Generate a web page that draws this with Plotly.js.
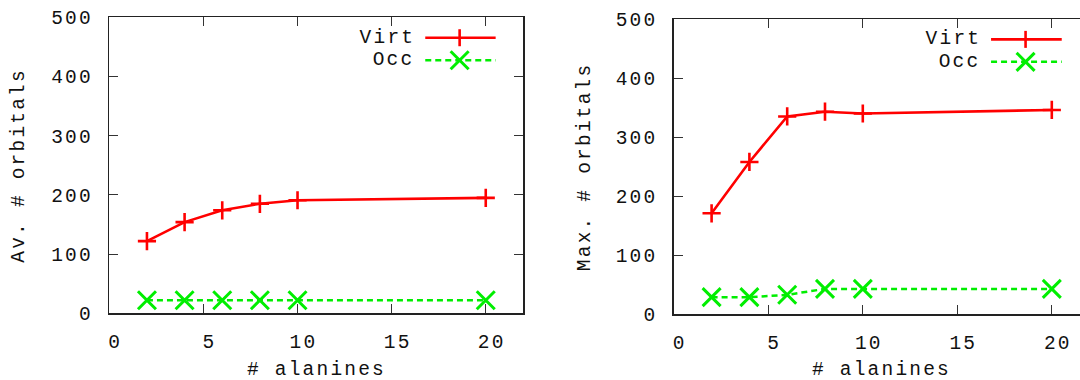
<!DOCTYPE html>
<html>
<head>
<meta charset="utf-8">
<script src="https://cdn.plot.ly/plotly-3.0.1.min.js"></script>
<style>
  html, body { margin: 0; padding: 0; overflow: hidden; background: #fff; }
  #chart { width: 1092px; height: 380px; }
  .main-svg text { letter-spacing: 2.2px; }
</style>
</head>
<body>
<div id="chart"></div>
<script>
// ---- data ----
const alanines = [2, 4, 6, 8, 10, 20];
const avVirt = [122, 154, 174, 185, 191, 195];
const avOcc = [22, 22, 22, 22, 22, 22];
const maxVirt = [171, 258, 335, 343, 340, 346];
const maxOcc = [29, 29, 33, 43, 43, 43];
const seriesNames = ['Virt', 'Occ'];
const xTitle = '# alanines';
const yTitleLeft = 'Av. # orbitals';
const yTitleRight = 'Max. # orbitals';
const xTicks = [0, 5, 10, 15, 20];
const yTicks = [0, 100, 200, 300, 400, 500];

// ---- styles ----
const RED = '#ff0000';
const GREEN = '#00ee00';
const FONT = 'Liberation Mono, DejaVu Sans Mono, monospace';
const FS = 19.5;
const TXT = '#111111';

function virtTrace(y, xa, ya) {
  return {
    x: alanines, y: y, xaxis: xa, yaxis: ya, name: seriesNames[0],
    mode: 'lines+markers', showlegend: false, hoverinfo: 'skip',
    line: { color: RED, width: 2.6 },
    marker: { symbol: 'cross-thin-open', size: 13, color: RED, line: { color: RED, width: 2.6 } }
  };
}
function occTrace(y, xa, ya) {
  return {
    x: alanines, y: y, xaxis: xa, yaxis: ya, name: seriesNames[1],
    mode: 'lines+markers', showlegend: false, hoverinfo: 'skip',
    line: { color: GREEN, width: 2.5, dash: '6px,4px' },
    marker: { symbol: 'x-thin-open', size: 18, color: GREEN, line: { color: GREEN, width: 3 } }
  };
}

const data = [
  virtTrace(avVirt, 'x', 'y'),
  occTrace(avOcc, 'x', 'y'),
  virtTrace(maxVirt, 'x2', 'y2'),
  occTrace(maxOcc, 'x2', 'y2')
];

const W = 1092, H = 380;
function xAxis(l, r, anchor) {
  return {
    domain: [l / W, r / W], anchor: anchor, range: [0, 22],
    tickvals: xTicks, ticktext: xTicks.map(String),
    ticks: 'inside', ticklen: 9, tickwidth: 1, tickcolor: '#333',
    showline: true, linecolor: '#222', linewidth: 1.5, mirror: 'ticks',
    showgrid: false, zeroline: false,
    ticklabelstandoff: 10, ticklabelshift: 6,
    tickfont: { family: FONT, size: FS, color: TXT }
  };
}
function yAxis(b, t, anchor) {
  return {
    domain: [(H - b) / H, (H - t) / H], anchor: anchor, range: [0, 500],
    tickvals: yTicks, ticktext: yTicks.map(String),
    ticks: 'inside', ticklen: 9, tickwidth: 1, tickcolor: '#333',
    showline: true, linecolor: '#222', linewidth: 1.5, mirror: 'ticks',
    showgrid: false, zeroline: false,
    ticklabelstandoff: 11,
    tickfont: { family: FONT, size: FS, color: TXT }
  };
}

// legend (gnuplot style: text left, sample right), in axis-domain coordinates
const legendRows = [
  { name: seriesNames[0], color: RED, dash: 'solid', width: 2.6, sym: 'plus', y: 0.931 },
  { name: seriesNames[1], color: GREEN, dash: '6px,4px', width: 2.5, sym: 'x', y: 0.855 }
];
const shapes = [];
const annotations = [];
[['x', 'y'], ['x2', 'y2']].forEach(function (ax) {
  const xr = ax[0] + ' domain', yr = ax[1] + ' domain';
  legendRows.forEach(function (row) {
    shapes.push({ type: 'line', xref: xr, yref: yr, x0: 0.763, x1: 0.933, y0: row.y, y1: row.y,
      line: { color: row.color, width: row.width, dash: row.dash } });
    if (row.sym === 'plus') {
      shapes.push({ type: 'line', xref: xr, yref: yr, xsizemode: 'pixel', ysizemode: 'pixel',
        xanchor: 0.846, yanchor: row.y, x0: 0, x1: 0, y0: -8.5, y1: 8.5,
        line: { color: row.color, width: 2.6 } });
    } else {
      [[-9, -9, 9, 9], [-9, 9, 9, -9]].forEach(function (d) {
        shapes.push({ type: 'line', xref: xr, yref: yr, xsizemode: 'pixel', ysizemode: 'pixel',
          xanchor: 0.846, yanchor: row.y, x0: d[0], y0: d[1], x1: d[2], y1: d[3],
          line: { color: row.color, width: 3 } });
      });
    }
    annotations.push({ xref: xr, yref: yr, x: 0.733, y: row.y, text: row.name, showarrow: false,
      xanchor: 'right', yanchor: 'middle', font: { family: FONT, size: FS, color: TXT } });
  });
});

// axis titles
annotations.push({ xref: 'x domain', yref: 'paper', x: 0.5, y: (H - 370) / H, text: xTitle,
  showarrow: false, xanchor: 'center', yanchor: 'middle', font: { family: FONT, size: FS, color: TXT } });
annotations.push({ xref: 'x2 domain', yref: 'paper', x: 0.5, y: (H - 370) / H, text: xTitle,
  showarrow: false, xanchor: 'center', yanchor: 'middle', font: { family: FONT, size: FS, color: TXT } });
annotations.push({ xref: 'x domain', yref: 'y domain', x: -0.218, y: 0.5, text: yTitleLeft, textangle: -90,
  showarrow: false, xanchor: 'center', yanchor: 'middle', font: { family: FONT, size: FS, color: TXT } });
annotations.push({ xref: 'x2 domain', yref: 'y2 domain', x: -0.2136, y: 0.5, text: yTitleRight, textangle: -90,
  showarrow: false, xanchor: 'center', yanchor: 'middle', font: { family: FONT, size: FS, color: TXT } });

const layout = {
  width: W, height: H,
  margin: { l: 0, r: 0, t: 0, b: 0 },
  paper_bgcolor: '#fff', plot_bgcolor: '#fff',
  showlegend: false,
  xaxis: xAxis(109.3, 523.4, 'y'),
  yaxis: yAxis(313.3, 17.3, 'x'),
  xaxis2: xAxis(673.8, 1089.6, 'y2'),
  yaxis2: yAxis(314.3, 19, 'x2'),
  shapes: shapes,
  annotations: annotations
};

Plotly.newPlot('chart', data, layout, { displayModeBar: false, staticPlot: true });
</script>
</body>
</html>
